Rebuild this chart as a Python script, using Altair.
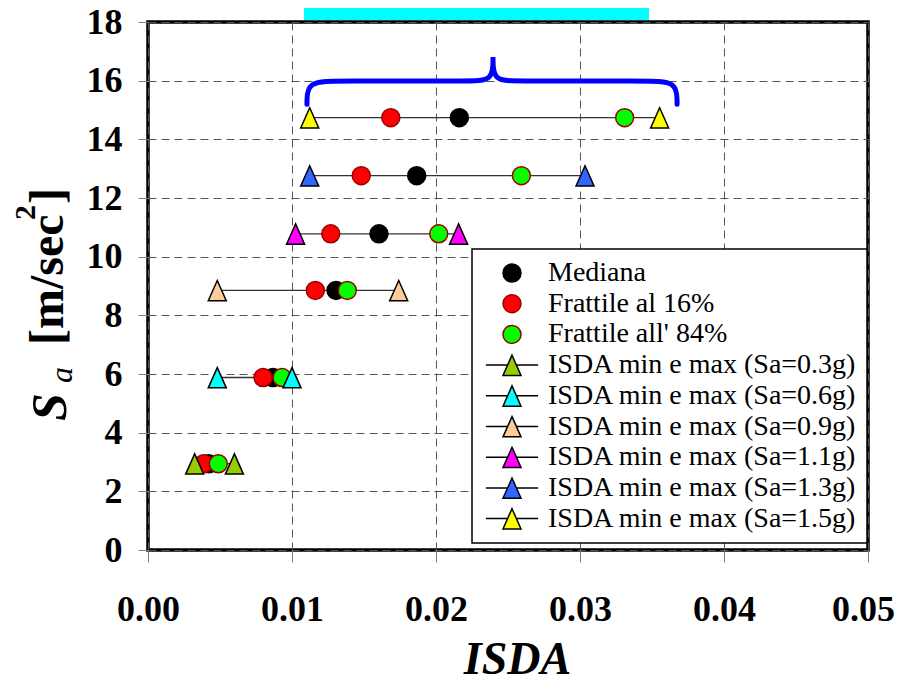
import altair as alt
import pandas as pd

# ---------------- data ----------------
sa_labels = ["0.3g", "0.6g", "0.9g", "1.1g", "1.3g", "1.5g"]
sa_values = [2.94, 5.88, 8.85, 10.78, 12.76, 14.74]          # m/sec^2
isda_min = [0.00324, 0.00481, 0.00481, 0.01025, 0.01123, 0.01123]
isda_max = [0.00600, 0.01000, 0.01741, 0.02157, 0.03035, 0.03553]
mediana = [0.00421, 0.00868, 0.01306, 0.01604, 0.01866, 0.02162]
frattile_16 = [0.00387, 0.00799, 0.01162, 0.01269, 0.01481, 0.01686]
frattile_84 = [0.00488, 0.00931, 0.01384, 0.02019, 0.02593, 0.03310]

series_circles = ["Mediana", "Frattile al 16%", "Frattile all' 84%"]
series_triangles = [f"ISDA min e max (Sa={s})" for s in sa_labels]
series_domain = series_circles + series_triangles
fill_colors = ["#000000", "#FF0000", "#00FF00", "#99CC00", "#00FFFF",
               "#FFCC99", "#FF00FF", "#3366FF", "#FFFF00"]
stroke_colors = ["#000000", "#990000", "#990000"] + ["#000000"] * 6

x_ticks = [0.0, 0.01, 0.02, 0.03, 0.04, 0.05]
y_ticks = [0, 2, 4, 6, 8, 10, 12, 14, 16, 18]

# curly brace over the top row (control points, data units)
brace_x = [0.01104, 0.01104, 0.01333, 0.02236, 0.02396, 0.02396, 0.02396,
           0.02396, 0.02396, 0.02556, 0.03458, 0.03674, 0.03674]
brace_y = [15.20, 15.99, 15.99, 15.99, 15.99, 16.81, 16.81,
           16.81, 15.99, 15.99, 15.99, 15.99, 15.20]

# ---------------- tables ----------------
circle_rows = []
for name, vals in zip(series_circles, [mediana, frattile_16, frattile_84]):
    for sa, v in zip(sa_values, vals):
        circle_rows.append({"series": name, "isda": v, "sa": sa})
circles_df = pd.DataFrame(circle_rows)

tri_rows = []
for name, sa, lo, hi in zip(series_triangles, sa_values, isda_min, isda_max):
    tri_rows.append({"series": name, "isda": lo, "sa": sa})
    tri_rows.append({"series": name, "isda": hi, "sa": sa})
tri_df = pd.DataFrame(tri_rows)

range_df = pd.DataFrame({"sa": sa_values, "lo": isda_min, "hi": isda_max})
brace_df = pd.DataFrame({"bx": brace_x, "by": brace_y, "k": list(range(len(brace_x)))})

SERIF = "Liberation Serif"
TRI = "M0,-1.1L1,1.15L-1,1.15Z"
LEG_TRI = "M-2.9,0L-0.5,0M0.5,0L2.9,0M0,-1.1L1,1.15L-1,1.15Z"

x_scale = alt.Scale(domain=[0, 0.05], nice=False, zero=False)
y_scale = alt.Scale(domain=[0, 18], nice=False, zero=False)

x_axis = alt.Axis(
    values=x_ticks, format=".2f", labelFont=SERIF, labelFontSize=36,
    labelFontWeight="bold", labelColor="black", labelPadding=30,
    labelOffset={"condition": {"test": "datum.value > 0.045", "value": -5}, "value": 0},
    labelFlush=False, labelOverlap=False, tickSize=12, tickColor="#808080",
    tickWidth=1, grid=True, gridColor="#555555", gridDash=[8, 5], gridWidth=1,
    domain=False, title="ISDA", titleFont=SERIF, titleFontSize=46,
    titleFontWeight="bold", titleFontStyle="italic", titleColor="black",
    titleX=369, titleY=123, titleBaseline="alphabetic", titleAlign="center",
)
y_axis = alt.Axis(
    values=y_ticks, format="d", labelFont=SERIF, labelFontSize=36,
    labelFontWeight="bold", labelColor="black", labelPadding=16,
    labelFlush=False, labelOverlap=False, tickSize=10, tickColor="#808080",
    tickWidth=1, grid=True, gridColor="#555555", gridDash=[8, 5], gridWidth=1,
    domain=False, title=None,
)

legend = alt.Legend(
    title=None, orient="none", legendX=324, legendY=227, padding=10,
    fillColor="white", strokeColor="black",
    labelFont=SERIF, labelFontSize=28, labelColor="black", labelLimit=600,
    symbolSize=324, symbolStrokeWidth=1.5, rowPadding=2.7,
    symbolOffset=16, labelOffset=22,
    symbolType=alt.ExprRef(expr="indexof(datum.value, 'ISDA') < 0 ? 'circle' : '" + LEG_TRI + "'"),
)

fill_enc = alt.Fill("series:N", scale=alt.Scale(domain=series_domain, range=fill_colors), legend=legend)
stroke_enc = alt.Stroke("series:N", scale=alt.Scale(domain=series_domain, range=stroke_colors), legend=legend)

X = lambda f: alt.X(f, scale=x_scale, axis=x_axis)
Y = lambda f: alt.Y(f, scale=y_scale, axis=y_axis)

lines = alt.Chart(range_df).mark_rule(color="#333333", strokeWidth=1.3).encode(
    x=X("lo:Q"), x2="hi:Q", y=Y("sa:Q"))

circles = alt.Chart(circles_df).mark_point(
    shape="circle", filled=True, size=324, strokeWidth=1.5, opacity=1).encode(
    x=X("isda:Q"), y=Y("sa:Q"), fill=fill_enc, stroke=stroke_enc)

triangles = alt.Chart(tri_df).mark_point(
    shape=TRI, filled=True, size=324, strokeWidth=1.5, opacity=1).encode(
    x=X("isda:Q"), y=Y("sa:Q"), fill=fill_enc, stroke=stroke_enc)

brace = alt.Chart(brace_df).mark_line(
    color="#0000FF", strokeWidth=5, interpolate="basis", strokeCap="round").encode(
    x=X("bx:Q"), y=Y("by:Q"), order="k:Q")

# y-axis title pieces: S_a [m/sec^2]
title_pieces = [
    # text, x, y, size, weight, style
    ("S", -82, 399, 50, "bold", "italic"),
    ("a", -76, 361, 32, "normal", "italic"),
    ("[m/sec", -85, 323, 48, "bold", "normal"),
    ("2", -113, 198, 30, "bold", "normal"),
    ("]", -85, 182, 48, "bold", "normal"),
]
title_layers = []
for t, px, py, fs, fw, fst in title_pieces:
    title_layers.append(
        alt.Chart(pd.DataFrame({"t": [t]})).mark_text(
            font=SERIF, fontSize=fs, fontWeight=fw, fontStyle=fst, color="black",
            angle=270, align="left", baseline="alphabetic").encode(
            text="t:N", x=alt.value(px), y=alt.value(py)))

# cyan frame piece at the top
one = pd.DataFrame({"d": [0]})
decor = alt.Chart(one).mark_rect(color="#00FFFF").encode(
    x=alt.value(156), x2=alt.value(501), y=alt.value(-14), y2=alt.value(-2))

chart = alt.layer(lines, circles, triangles, brace, *title_layers, decor).properties(
    width=720, height=528,
    padding={"left": 140, "top": 14, "right": 28, "bottom": 134},
    autosize=alt.AutoSizeParams(type="none"),
    background="white",
).configure_view(
    stroke="black", strokeWidth=3.5
).configure_legend(
    strokeWidth=1.5, labelFont=SERIF
).configure_axis(
    labelFont=SERIF, titleFont=SERIF
)

chart.save("out.html", embed_options={"renderer": "svg", "actions": False})
